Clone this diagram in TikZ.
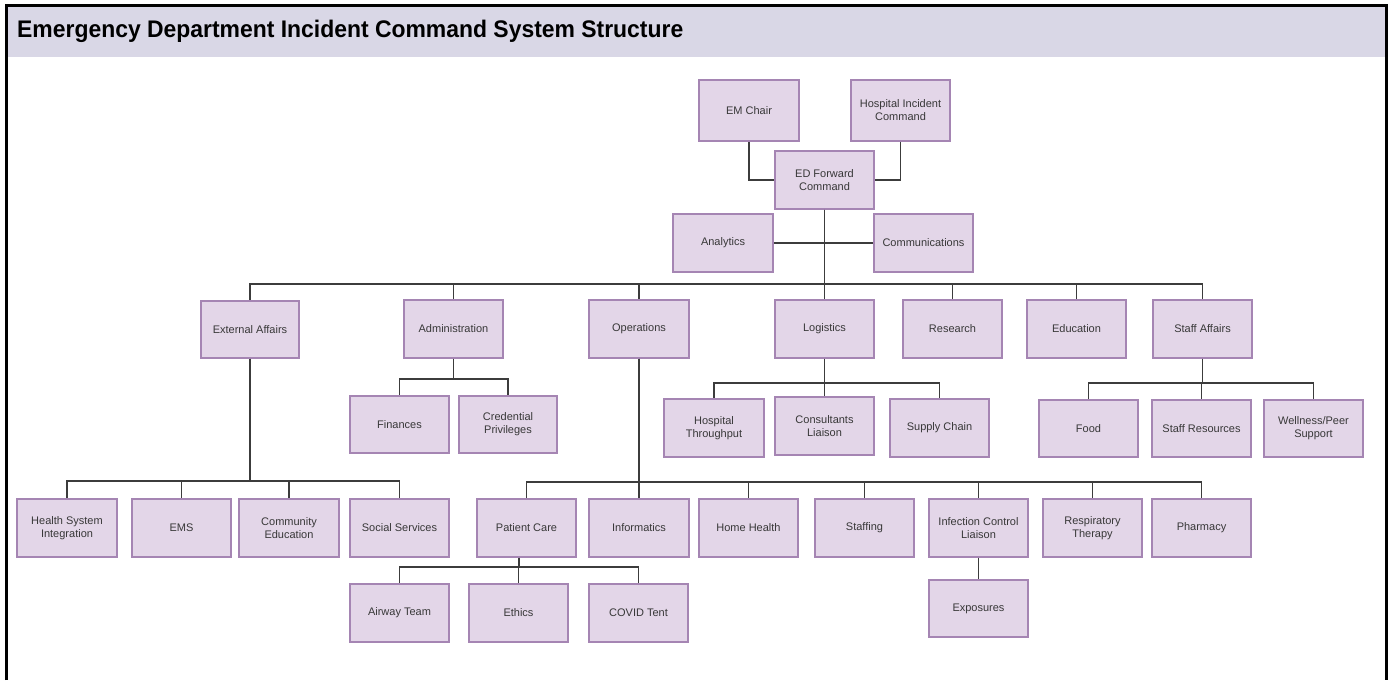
\documentclass[tikz,border=0pt]{standalone}
\usepackage{fontspec}
\setmainfont{Liberation Sans}
\definecolor{boxfill}{HTML}{E3D6E8}
\definecolor{boxline}{HTML}{A585B3}
\definecolor{linec}{HTML}{3C3C3C}
\definecolor{band}{HTML}{D9D7E6}
\definecolor{txt}{HTML}{383838}
\begin{document}
\begin{tikzpicture}[x=1pt,y=-1pt,
  box/.style={draw=boxline,fill=boxfill,line width=1.8pt,inner sep=2pt,
    minimum width=99pt,minimum height=58pt,align=center,text=txt,
    font=\fontsize{11}{13}\selectfont},
  conn/.style={draw=linec,line width=1.6pt}]
\useasboundingbox (0,0) rectangle (1391,680);
% frame and title band
\fill[band] (8,7) rectangle (1385,57);
\draw[black,line width=3pt] (6.5,680) -- (6.5,5.5) -- (1386.5,5.5) -- (1386.5,680);
\node[anchor=base west,inner sep=0pt,xscale=0.955,font=\fontsize{24}{28}\selectfont\bfseries] (title) at (17,37.5) {Emergency Department Incident Command System Structure};
% top level
\node[box,minimum width=100pt,minimum height=61pt] (em) at (749,110.5) {EM Chair};
\node[box,minimum height=61pt] (hic) at (900.5,110.5) {Hospital Incident\\Command};
\node[box] (edf) at (824.5,180) {ED Forward\\Command};
\node[box,minimum width=100pt] (ana) at (723,243) {Analytics};
\node[box] (com) at (923.5,243) {Communications};
% level 2
\node[box,minimum width=98pt,minimum height=57pt] (ext) at (250,329.5) {External Affairs};
\node[box] (adm) at (453.5,329) {Administration};
\node[box,minimum width=100pt] (ops) at (639,329) {Operations};
\node[box] (log) at (824.5,329) {Logistics};
\node[box] (res) at (952.5,329) {Research};
\node[box] (edu) at (1076.5,329) {Education};
\node[box] (sta) at (1202.5,329) {Staff Affairs};
% level 3
\node[box,minimum height=57pt] (fin) at (399.5,424.5) {Finances};
\node[box,minimum width=98pt,minimum height=57pt] (cre) at (508,424.5) {Credential\\Privileges};
\node[box,minimum width=100pt] (hth) at (714,428) {Hospital\\Throughput};
\node[box] (con) at (824.5,426) {Consultants\\Liaison};
\node[box] (sup) at (939.5,428) {Supply Chain};
\node[box,minimum height=57pt] (food) at (1088.5,428.5) {Food};
\node[box,minimum height=57pt] (sres) at (1201.5,428.5) {Staff Resources};
\node[box,minimum height=57pt] (well) at (1313.5,428.5) {Wellness/Peer\\Support};
% level 4
\node[box,minimum width=100pt] (hsi) at (67,528) {Health System\\Integration};
\node[box] (ems) at (181.5,528) {EMS};
\node[box,minimum width=100pt] (cedu) at (289,528) {Community\\Education};
\node[box] (soc) at (399.5,528) {Social Services};
\node[box] (pc) at (526.5,528) {Patient Care};
\node[box,minimum width=100pt] (inf) at (639,528) {Informatics};
\node[box] (hh) at (748.5,528) {Home Health};
\node[box] (stf) at (864.5,528) {Staffing};
\node[box] (icl) at (978.5,528) {Infection Control\\Liaison};
\node[box] (rt) at (1092.5,528) {Respiratory\\Therapy};
\node[box] (ph) at (1201.5,528) {Pharmacy};
% level 5
\node[box] (air) at (399.5,613) {Airway Team};
\node[box] (eth) at (518.5,613) {Ethics};
\node[box] (cov) at (638.5,613) {COVID Tent};
\node[box,minimum height=57pt] (exp) at (978.5,608.5) {Exposures};
% connectors
\draw[conn] (em.south) |- (edf.west);
\draw[conn] (hic.south) |- (edf.east);
\draw[conn] (ana.east) -- (com.west);
\foreach \c in {ext,adm,ops,log,res,edu,sta}
  \draw[conn] (edf.south) -- ++(0,74) -| (\c.north);
\foreach \c in {hsi,ems,cedu,soc}
  \draw[conn] (ext.south) -- ++(0,122) -| (\c.north);
\foreach \c in {fin,cre}
  \draw[conn] (adm.south) -- ++(0,20) -| (\c.north);
\foreach \c in {pc,inf,hh,stf,icl,rt,ph}
  \draw[conn] (ops.south) -- ++(0,123) -| (\c.north);
\foreach \c in {hth,con,sup}
  \draw[conn] (log.south) -- ++(0,24) -| (\c.north);
\foreach \c in {food,sres,well}
  \draw[conn] (sta.south) -- ++(0,24) -| (\c.north);
\foreach \c in {air,eth,cov}
  \draw[conn] ([xshift=-7.5pt]pc.south) -- ++(0,9) -| (\c.north);
\draw[conn] (icl.south) -- (exp.north);
\end{tikzpicture}
\end{document}
